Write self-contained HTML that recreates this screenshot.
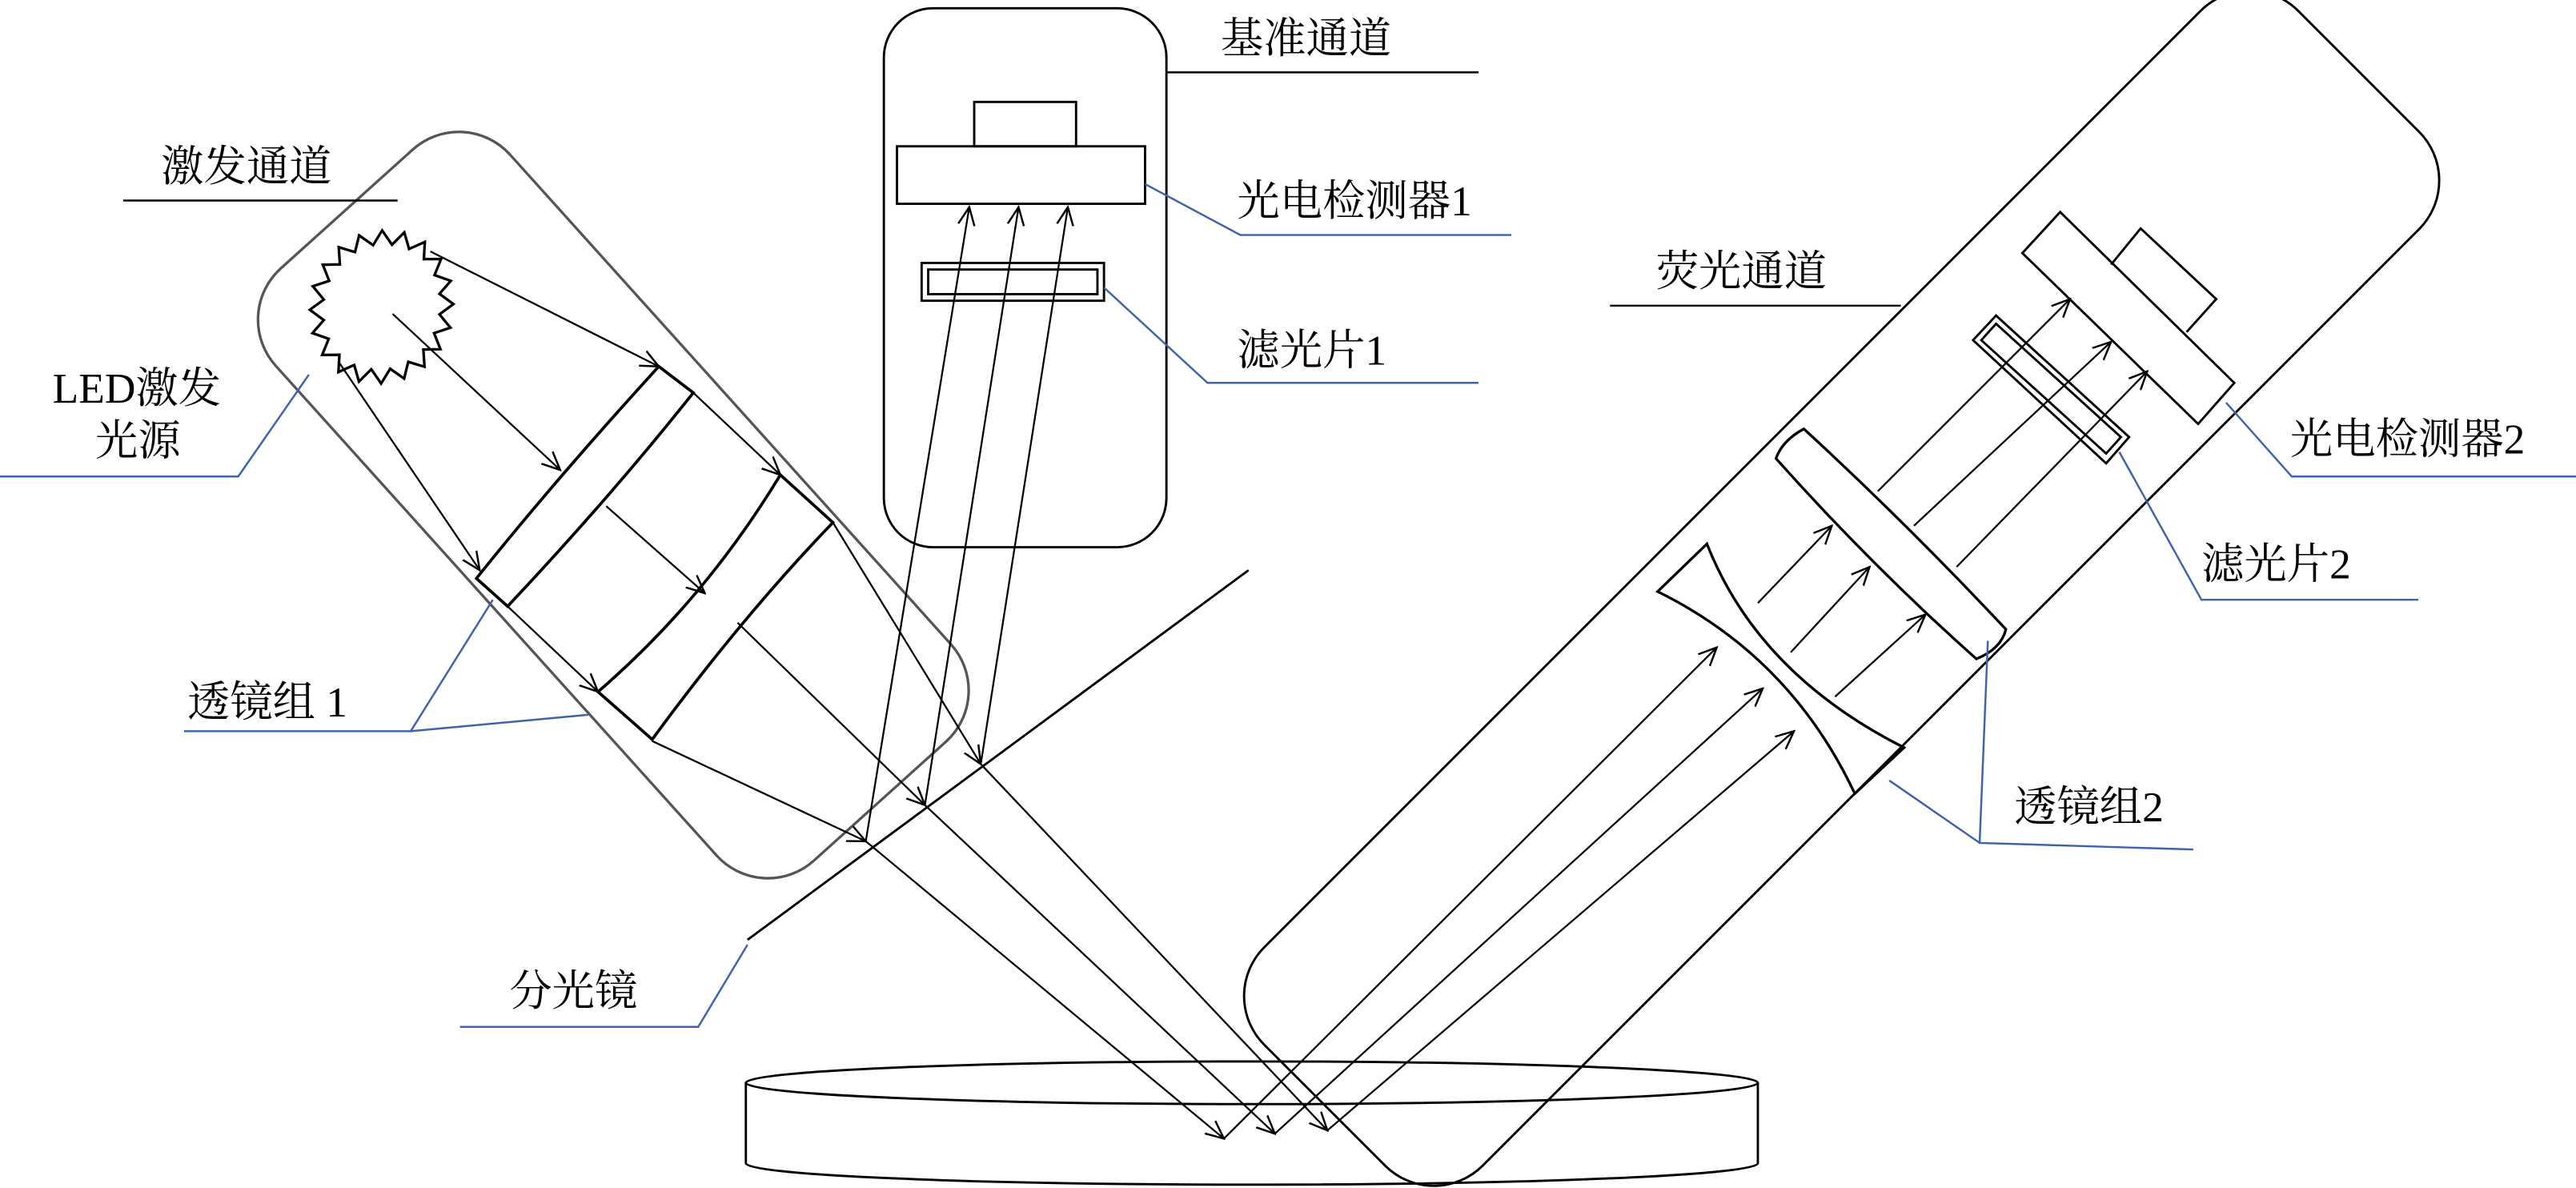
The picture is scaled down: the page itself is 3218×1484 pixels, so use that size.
<!DOCTYPE html>
<html><head><meta charset="utf-8"><style>html,body{margin:0;padding:0;background:#fff}svg{display:block}text{font-family:"Liberation Serif","Noto Serif CJK SC","Noto Sans CJK SC",serif;font-size:26px;fill:#000}</style></head><body>
<svg width="3218" height="1484" viewBox="0 0 1568 723" xmlns="http://www.w3.org/2000/svg">
<defs><marker id="a" viewBox="0 0 12 12" refX="11" refY="6" markerWidth="12" markerHeight="12" markerUnits="userSpaceOnUse" orient="auto"><path d="M0,1 L11,6 L0,11" fill="none" stroke="#000" stroke-width="1.2"/></marker></defs>
<g fill="none" stroke="#000" stroke-width="1.4">
<rect x="-242" y="-96" width="485" height="192" rx="42" transform="translate(373,307) rotate(48)" stroke="#555" stroke-width="1.6"/>
<rect x="538" y="5" width="172" height="328" rx="30"/>
<rect x="546" y="89" width="151" height="35"/><rect x="593" y="62" width="62" height="27"/>
<rect x="561" y="160" width="111" height="23"/><rect x="565" y="164" width="103" height="15"/>
<rect x="-445" y="-94" width="890" height="188" rx="42" transform="translate(1121,358) rotate(-45)"/>
<path d="M454,659 L454,708 A308,13 0 0 0 1070,708 L1070,659"/>
<ellipse cx="762" cy="659" rx="308" ry="13"/>
<line x1="455" y1="572" x2="760" y2="347"/>
<path d="M290,352 Q338,292 401,223 L422,239 Q372,302 309,369 Z" stroke-width="1.8"/>
<path d="M364,421 Q429,365 475,289 L507,318 Q452,375 397,450 Z" stroke-width="1.8"/>
<path d="M1009,360 L1039,331 Q1070,410 1159,455 L1129,483 Q1090,400 1009,360 Z" stroke-width="1.6"/>
<path d="M1098,261 Q1160,318 1221,383 Q1218,395 1203,401 Q1140,345 1081,279 Q1085,268 1098,261 Z" stroke-width="1.6"/>
<path d="M1201,207 L1215,192 L1296,266 L1282,282 Z"/><path d="M1206,207 L1215,197 L1291,266 L1282,276 Z"/>
<path d="M1231,154 L1254,129 L1360,233 L1338,258 Z"/><path d="M1285,161 L1303,139 L1349,182 L1331,202"/>
</g>
<g fill="none" stroke="#000" stroke-width="1.1">
<line x1="262" y1="153" x2="401" y2="223" marker-end="url(#a)"/>
<line x1="239" y1="191" x2="341" y2="286" marker-end="url(#a)"/>
<line x1="206" y1="220" x2="292" y2="347" marker-end="url(#a)"/>
<line x1="422" y1="239" x2="475" y2="289" marker-end="url(#a)"/>
<line x1="369" y1="308" x2="429" y2="361" marker-end="url(#a)"/>
<line x1="309" y1="369" x2="364" y2="421" marker-end="url(#a)"/>
<line x1="507" y1="318" x2="597" y2="465" marker-end="url(#a)"/>
<line x1="449" y1="379" x2="563" y2="490" marker-end="url(#a)"/>
<line x1="397" y1="451" x2="527" y2="512" marker-end="url(#a)"/>
<line x1="597" y1="465" x2="808" y2="688" marker-end="url(#a)"/>
<line x1="563" y1="490" x2="776" y2="690" marker-end="url(#a)"/>
<line x1="527" y1="512" x2="745" y2="693" marker-end="url(#a)"/>
<line x1="527" y1="512" x2="590" y2="126" marker-end="url(#a)"/>
<line x1="563" y1="490" x2="620" y2="126" marker-end="url(#a)"/>
<line x1="597" y1="465" x2="650" y2="126" marker-end="url(#a)"/>
<line x1="745" y1="693" x2="1045" y2="394" marker-end="url(#a)"/>
<line x1="776" y1="690" x2="1073" y2="419" marker-end="url(#a)"/>
<line x1="808" y1="688" x2="1092" y2="445" marker-end="url(#a)"/>
<line x1="1070" y1="367" x2="1115" y2="320" marker-end="url(#a)"/>
<line x1="1090" y1="397" x2="1138" y2="345" marker-end="url(#a)"/>
<line x1="1117" y1="424" x2="1172" y2="374" marker-end="url(#a)"/>
<line x1="1143" y1="299" x2="1260" y2="182" marker-end="url(#a)"/>
<line x1="1165" y1="320" x2="1285" y2="208" marker-end="url(#a)"/>
<line x1="1191" y1="345" x2="1307" y2="226" marker-end="url(#a)"/>
</g>
<g fill="none" stroke="#000" stroke-width="1.2">
<line x1="75" y1="122" x2="242" y2="122"/>
<line x1="710" y1="44" x2="900" y2="44"/>
<line x1="980" y1="186" x2="1157" y2="186"/>
</g>
<g fill="none" stroke="#3d63ad" stroke-width="1.2">
<polyline points="697,112 755,143 920,143"/>
<polyline points="672,175 735,233 900,233"/>
<polyline points="1355,245 1395,290 1568,290"/>
<polyline points="1290,275 1340,365 1472,365"/>
<polyline points="1210,390 1205,513 1335,517"/>
<line x1="1150" y1="475" x2="1205" y2="513"/>
<polyline points="188,228 145,290 0,290"/>
<polyline points="300,365 250,445 112,445"/>
<line x1="358" y1="435" x2="250" y2="445"/>
<polyline points="455,575 425,625 280,625"/>
</g>
<g>
<text x="98" y="110">激发通道</text>
<text x="743" y="32">基准通道</text>
<text x="753" y="131">光电检测器1</text>
<text x="753" y="222">滤光片1</text>
<text x="1008" y="174">荧光通道</text>
<text x="1394" y="276">光电检测器2</text>
<text x="1340" y="352">滤光片2</text>
<text x="1226" y="500">透镜组2</text>
<text x="32" y="245">LED激发</text>
<text x="58" y="277">光源</text>
<text x="114" y="436">透镜组 1</text>
<text x="310" y="612">分光镜</text>
</g>
<polygon fill="none" stroke="#000" stroke-width="1.6" points="276.0,185.0 267.5,191.3 274.2,199.4 264.2,202.7 268.1,212.5 257.7,212.7 258.4,223.2 248.5,220.2 246.0,230.4 237.5,224.4 232.0,233.4 226.0,224.7 218.5,232.2 215.6,222.1 206.0,226.4 206.6,215.9 196.1,216.0 200.1,206.2 190.2,202.7 197.1,194.8 188.6,188.5 197.1,182.3 190.4,174.2 200.4,170.9 196.5,161.1 206.9,160.9 206.2,150.4 216.1,153.4 218.6,143.2 227.1,149.2 232.6,140.2 238.6,148.9 246.1,141.4 249.0,151.5 258.6,147.2 258.0,157.7 268.5,157.6 264.5,167.4 274.4,170.9 267.5,178.8"/>
</svg>
</body></html>
